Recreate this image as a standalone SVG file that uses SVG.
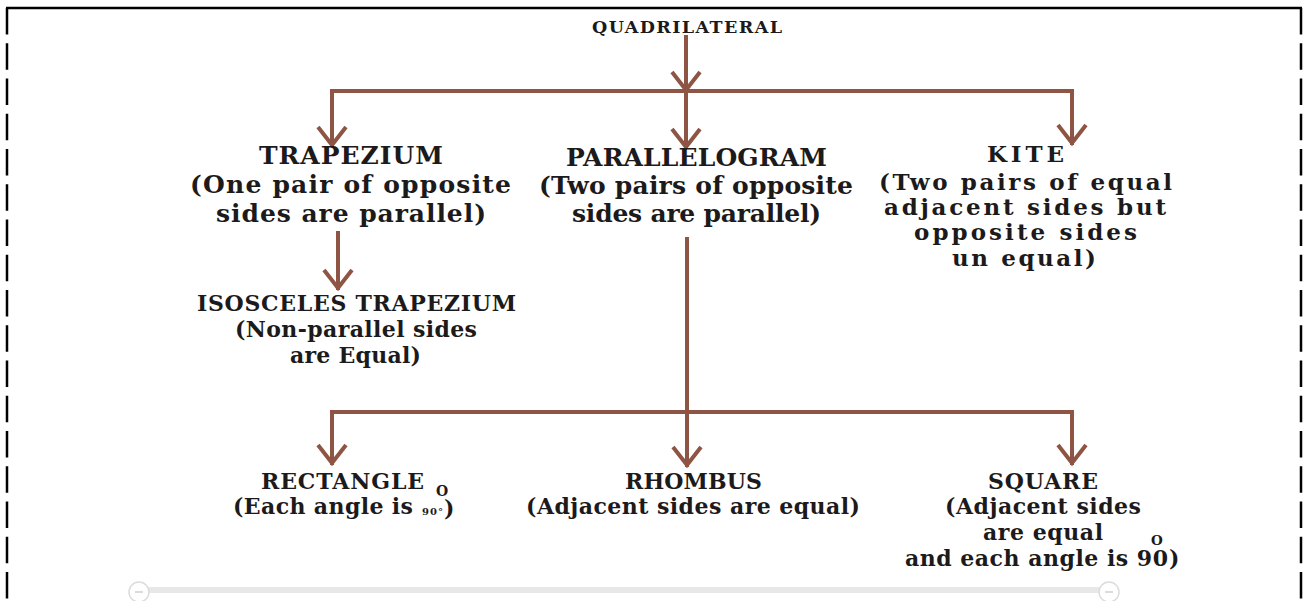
<svg xmlns="http://www.w3.org/2000/svg" width="1303" height="601" viewBox="0 0 1303 601">
  <style>
    text { font-family: "DejaVu Serif", "Liberation Serif", serif; font-weight: bold; fill: #1c1a1a; }
    .h { font-size: 25px; }
    .k { font-size: 23px; }
    .s { font-size: 22px; }
    .conn { fill: none; stroke: #8e5444; stroke-width: 4; stroke-linecap: square; stroke-linejoin: miter; }
    .arr { marker-end: url(#v); }
    .border { stroke: #000; stroke-width: 2.5; fill: none; }
  </style>
  <defs>
    <marker id="v" markerUnits="userSpaceOnUse" orient="auto" refX="0" refY="0" markerWidth="40" markerHeight="40" viewBox="-25 -20 30 40" overflow="visible">
      <path d="M -18 -14 L 0 0 L -18 14" fill="none" stroke="#8e5444" stroke-width="4"/>
    </marker>
  </defs>
  <rect width="1303" height="601" fill="#fff"/>

  <g id="frame">
    <line class="border" x1="6" y1="8" x2="1302" y2="8"/>
    <line class="border" x1="7" y1="8" x2="7" y2="601" stroke-dasharray="26.5 8.75"/>
    <line class="border" x1="1301" y1="8" x2="1301" y2="601" stroke-dasharray="26.5 8.75"/>
  </g>

  <g id="scrollbar">
    <rect x="146" y="587" width="956" height="6" fill="#e8e8e8"/>
    <circle cx="139" cy="592" r="10" fill="#fff" stroke="#dcdcdc" stroke-width="1.5"/>
    <line x1="135" y1="592" x2="143" y2="592" stroke="#cfcfcf" stroke-width="1.5"/>
    <circle cx="1109" cy="592" r="10" fill="#fff" stroke="#dcdcdc" stroke-width="1.5"/>
    <line x1="1105" y1="592" x2="1113" y2="592" stroke="#cfcfcf" stroke-width="1.5"/>
  </g>

  <g id="connectors">
    <path class="conn arr" d="M686 37 V90"/>
    <path class="conn" d="M332 91 H1072"/>
    <path class="conn arr" d="M332 91 V145"/>
    <path class="conn arr" d="M686 91 V147"/>
    <path class="conn arr" d="M1072 91 V143"/>
    <path class="conn arr" d="M338 233 V288"/>
    <path class="conn" d="M687 239 V412"/>
    <path class="conn" d="M332 412 H1072"/>
    <path class="conn arr" d="M332 412 V463"/>
    <path class="conn arr" d="M687 412 V465"/>
    <path class="conn arr" d="M1072 412 V463"/>
  </g>

  <g id="quadrilateral">
    <text x="592" y="33" font-size="17.5" textLength="190">QUADRILATERAL</text>
  </g>

  <g id="trapezium">
    <text class="h" x="259" y="164" textLength="184">TRAPEZIUM</text>
    <text class="h" x="190" y="193" textLength="321">(One pair of opposite</text>
    <text class="h" x="216" y="222" textLength="270">sides are parallel)</text>
  </g>

  <g id="parallelogram">
    <text class="h" x="566" y="166" textLength="261">PARALLELOGRAM</text>
    <text class="h" x="539" y="194" textLength="314">(Two pairs of opposite</text>
    <text class="h" x="572" y="222" textLength="249">sides are parallel)</text>
  </g>

  <g id="kite">
    <text class="k" x="987" y="162" textLength="77">KITE</text>
    <text class="k" x="879" y="190" textLength="293">(Two pairs of equal</text>
    <text class="k" x="884" y="215" textLength="282">adjacent sides but</text>
    <text class="k" x="914" y="240" textLength="223">opposite sides</text>
    <text class="k" x="952" y="266" textLength="144">un equal)</text>
  </g>

  <g id="isosceles-trapezium">
    <text class="s" x="197" y="311" textLength="319">ISOSCELES TRAPEZIUM</text>
    <text class="s" x="235" y="337" textLength="242">(Non-parallel sides</text>
    <text class="s" x="290" y="363" textLength="131">are Equal)</text>
  </g>

  <g id="rectangle">
    <text class="s" x="261" y="489" textLength="163">RECTANGLE</text>
    <text x="436" y="496" font-size="14" textLength="12">O</text>
    <text class="s" x="233" y="514" textLength="180">(Each angle is</text>
    <text x="422" y="515" font-size="10" textLength="21">90°</text>
    <text class="s" x="444" y="516">)</text>
  </g>

  <g id="rhombus">
    <text class="s" x="625" y="489" textLength="137">RHOMBUS</text>
    <text class="s" x="526" y="514" textLength="334">(Adjacent sides are equal)</text>
  </g>

  <g id="square">
    <text class="s" x="988" y="489" textLength="110">SQUARE</text>
    <text class="s" x="945" y="514" textLength="196">(Adjacent sides</text>
    <text class="s" x="983" y="540" textLength="120">are equal</text>
    <text class="s" x="905" y="566" textLength="263">and each angle is 90</text>
    <text x="1151" y="545" font-size="13.5" textLength="15">O</text>
    <text class="s" x="1169" y="566">)</text>
  </g>
</svg>
